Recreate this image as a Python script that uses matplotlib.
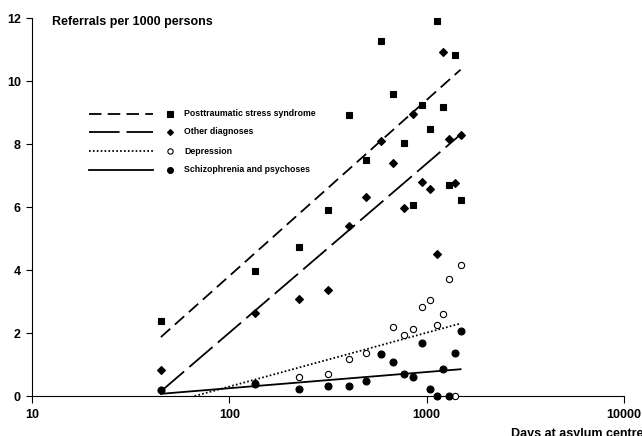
import numpy as np
import matplotlib.pyplot as plt
from matplotlib.lines import Line2D

plt.rcParams["font.family"] = ["Liberation Sans", "DejaVu Sans"]
plt.rcParams["font.weight"] = "bold"
plt.rcParams["lines.scale_dashes"] = False

# days at asylum centre (quarterly groups)
days = [45, 135, 225, 315, 405, 495, 585, 675, 765, 855,
        945, 1035, 1125, 1215, 1305, 1395, 1485]

# referrals per 1000 persons
ptsd = [2.39, 3.97, 4.73, 5.91, 8.92, 7.49, 11.26, 9.59, 8.03, 6.07,
        9.25, 8.48, 11.89, 9.16, 6.69, 10.83, 6.22]
other = [0.83, 2.63, 3.07, 3.38, 5.41, 6.32, 8.10, 7.40, 5.96, 8.96,
         6.78, 6.58, 4.50, 10.91, 8.17, 6.77, 8.30]
depression = [0.18, 0.40, 0.59, 0.70, 1.19, 1.37, 1.33, 2.18, 1.94, 2.13,
              2.83, 3.06, 2.24, 2.61, 3.71, 0.00, 4.15]
schizo = [0.18, 0.38, 0.22, 0.33, 0.33, 0.48, 1.33, 1.09, 0.69, 0.60,
          1.69, 0.23, 0.00, 0.87, 0.00, 1.35, 2.07]

# trend lines as printed: y = intercept + slope * log10(days)
trend_intercept = [-7.37, -8.73, -3.12, -0.78]
trend_slope = [5.59, 5.37, 1.71, 0.514]

labels = ["Posttraumatic stress syndrome", "Other diagnoses",
          "Depression", "Schizophrenia and psychoses"]

series = [
    (ptsd, dict(marker="s", ms=5, mfc="black"), (0, (9, 4.5))),
    (other, dict(marker="D", ms=3.6, mfc="black"), (0, (22, 5))),
    (depression, dict(marker="o", ms=4.5, mfc="white"), (0, (1.2, 1.6))),
    (schizo, dict(marker="o", ms=5, mfc="black"), "-"),
]


def main():
    fig = plt.figure(figsize=(6.42, 4.36), dpi=100)
    ax = fig.add_axes([0.0498, 0.0917, 0.9222, 0.867])

    x = np.array(days, dtype=float)
    xfit = np.array([x.min(), x.max()])

    for (vals, mstyle, ls), a, b in zip(series, trend_intercept, trend_slope):
        ax.plot(xfit, a + b * np.log10(xfit), color="black", lw=1.3,
                linestyle=ls, zorder=2)
        ax.plot(x, vals, linestyle="none", color="black", mec="black",
                mew=0.8, zorder=3, clip_on=False, **mstyle)

    ax.set_xscale("log")
    ax.set_xlim(10, 10000)
    ax.set_ylim(0, 12)
    ax.set_xticks([10, 100, 1000, 10000])
    ax.set_xticklabels(["10", "100", "1000", "10000"])
    ax.minorticks_off()
    ax.set_yticks(range(0, 13, 2))
    ax.tick_params(direction="out", labelsize=9, width=0.8)
    ax.tick_params(axis="x", length=5, pad=4)
    ax.tick_params(axis="y", length=4, pad=4)
    for side in ["top", "right"]:
        ax.spines[side].set_visible(False)
    for side in ["left", "bottom"]:
        ax.spines[side].set_linewidth(0.8)

    ax.text(0.034, 0.99, "Referrals per 1000 persons", transform=ax.transAxes,
            fontsize=9, fontweight="bold", va="center", ha="left")
    # the reference crops this label at the right and bottom edges
    fig.text(511 / 642, 1 - 437 / 436, "Days at asylum centre",
             fontsize=9, fontweight="bold", ha="left", va="baseline")

    # hand-built legend: line sample, marker, label
    row_y = [113.7, 132, 151, 170]
    for (vals, mstyle, ls), label, py in zip(series, labels, row_y):
        fy = 1 - py / 436
        fig.add_artist(Line2D([89 / 642, 153 / 642], [fy, fy], color="black",
                              lw=1.3, linestyle=ls))
        fig.add_artist(Line2D([170 / 642], [fy], color="black", mec="black",
                              mew=0.8, linestyle="none",
                              **{**mstyle, "ms": mstyle["ms"] * 0.85}))
        fig.text(184 / 642, fy, label, fontsize=6.3, fontweight="bold",
                 va="center", ha="left")

    fig.savefig("out.png", dpi=100)


if __name__ == "__main__":
    main()
